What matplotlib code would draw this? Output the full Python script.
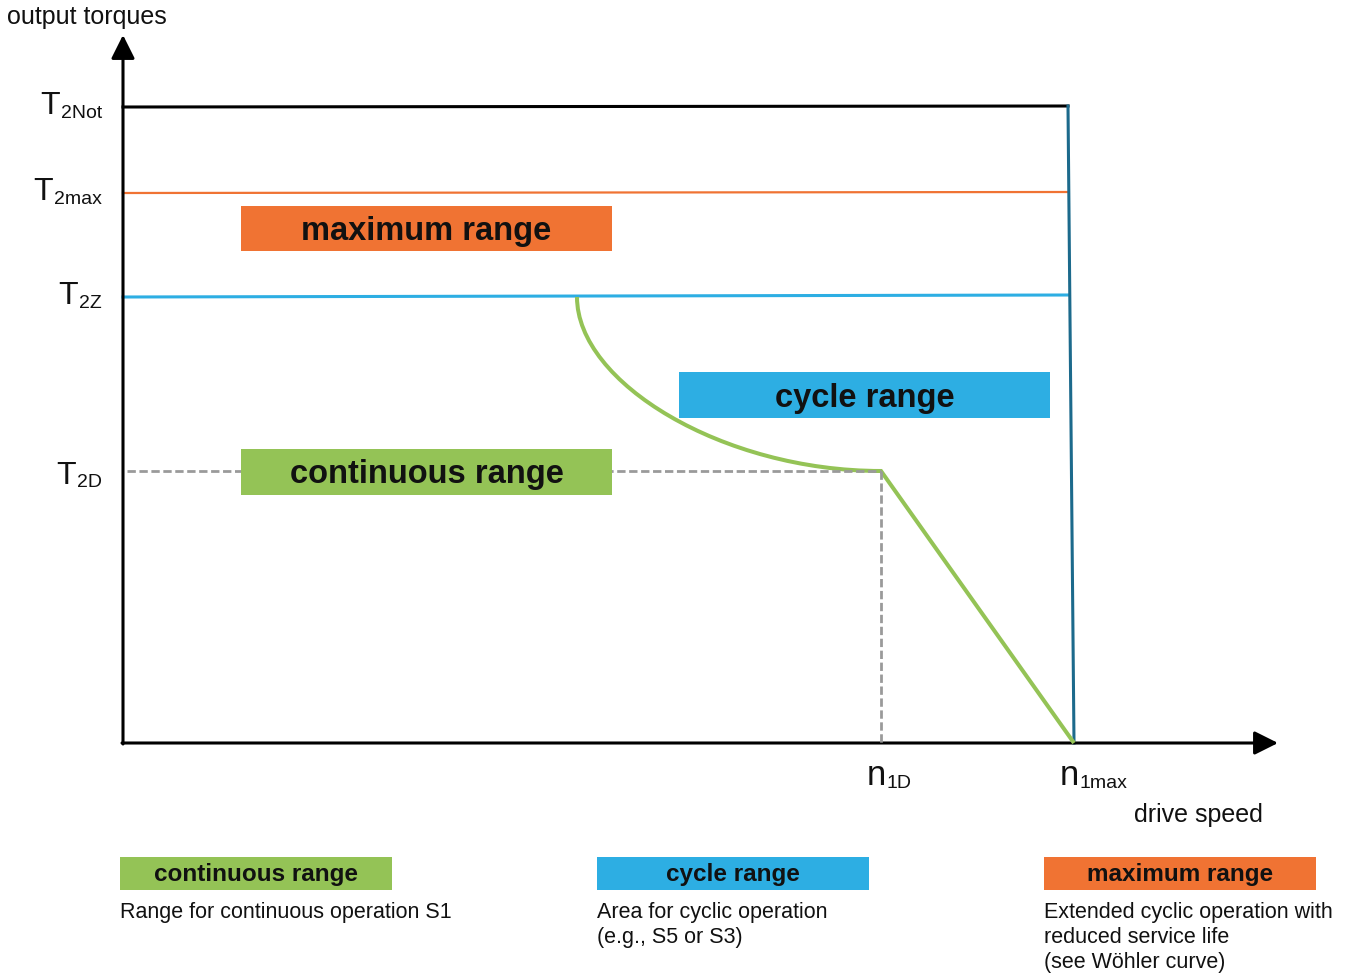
import matplotlib.pyplot as plt
from matplotlib.patches import Rectangle, PathPatch
from matplotlib.path import Path

plt.rcParams['font.family'] = ['Liberation Sans', 'DejaVu Sans']

# --- data (drawing units, origin at the axis corner) ---
level_names = ["2Not", "2max", "2Z", "2D"]
level_left = [636, 550, 446, 272]
level_right = [637, 551, 448, 272]

n1D = 758
n1max_top = 945
n1max = 951

# S1/S5 limit curve from T2Z down to (n1D, T2D): bezier anchor + control points
curve_x = [454, 454, 600, 758]
curve_y = [446, 360, 272, 272]

range_names = ["maximum range", "cycle range", "continuous range"]
range_colors = ["#F07333", "#2DAEE3", "#94C356"]
range_notes = ["Extended cyclic operation with\nreduced service life\n(see Wöhler curve)",
               "Area for cyclic operation\n(e.g., S5 or S3)",
               "Range for continuous operation S1"]

BLACK = "#111111"
ORANGE, BLUE, GREEN = range_colors
DARKBLUE = "#1C6A8C"
GREY = "#9A9A9A"

fig = plt.figure(figsize=(13.46, 9.76), dpi=100)
ax = fig.add_axes([0, 0, 1, 1])
ax.set_xlim(-123, 1223)
ax.set_ylim(-233, 743)
ax.axis('off')

# axes with arrow heads
arrow = dict(arrowstyle='-|>,head_length=0.4,head_width=0.2', mutation_scale=36,
             lw=2.2, color='black', shrinkA=0, shrinkB=0)
ax.annotate('', xy=(0, 708), xytext=(0, -1), arrowprops=arrow)
ax.annotate('', xy=(1155, 0), xytext=(-1, 0), arrowprops=arrow)

# torque levels
ax.plot([0, n1max_top], [level_left[0], level_right[0]], color='black', lw=2.2)
ax.plot([0, n1max_top], [level_left[1], level_right[1]], color=ORANGE, lw=1.6)
ax.plot([0, n1max_top], [level_left[2], level_right[2]], color=BLUE, lw=2.2)
ax.plot([n1max_top, n1max], [level_right[0], 0], color=DARKBLUE, lw=2.2)

# green limit: curve then straight drop to n1max
verts = list(zip(curve_x, curve_y)) + [(n1max, 0)]
codes = [Path.MOVETO, Path.CURVE4, Path.CURVE4, Path.CURVE4, Path.LINETO]
ax.add_patch(PathPatch(Path(verts, codes), fill=False, edgecolor=GREEN, lw=2.9, zorder=3))

# continuous torque / speed (dashed)
ax.plot([4, n1D], [level_left[3], level_right[3]], color=GREY, lw=2,
        dashes=(3.0, 1.3), zorder=4)
ax.plot([n1D, n1D], [level_right[3], 0], color=GREY, lw=2, dashes=(3.0, 1.3), zorder=4)

# range boxes inside the chart
boxes = [(118, 492, 371, 45), (556, 325, 371, 46), (118, 248, 371, 46)]
for (x0, y0, w, h), name, c in zip(boxes, range_names, range_colors):
    ax.add_patch(Rectangle((x0, y0), w, h, color=c, zorder=5, lw=0))
    ax.text(x0 + w / 2, y0 + h / 2 - 3, name, ha='center', va='center',
            fontsize=23.5, fontweight='bold', color=BLACK, zorder=6)

# legend row at the bottom
leg_x = [921, 474, -3]
for x0, name, c, note in zip(leg_x, range_names, range_colors, range_notes):
    ax.add_patch(Rectangle((x0, -147), 272, 33, color=c, lw=0, clip_on=False))
    ax.text(x0 + 136, -132, name, ha='center', va='center', fontsize=17.5,
            fontweight='bold', color=BLACK)
    ax.text(x0, -159, note, ha='left', va='top', fontsize=15.5,
            color=BLACK, linespacing=1.24)

# axis titles
ax.text(-116, 719, "output torques", fontsize=18, color=BLACK, va='baseline')
ax.text(1011, -79, "drive speed", fontsize=18, color=BLACK, va='baseline')

# tick labels with subscripts
fig.canvas.draw()
renderer = fig.canvas.get_renderer()
inv = ax.transData.inverted()

for name, y in zip(level_names, level_left):
    off = 16 if name == "2D" else 11
    s = ax.text(-21, y - off, name, ha='right', va='baseline', fontsize=14, color=BLACK)
    left = inv.transform(s.get_window_extent(renderer).p0)[0]
    ax.text(left - 1, y - off + 3.5, "T", ha='right', va='baseline', fontsize=23,
            color=BLACK)

for name, x in [("1D", n1D), ("1max", n1max)]:
    m = ax.text(x - 14, -42, "n", ha='left', va='baseline', fontsize=25, color=BLACK)
    right = inv.transform(m.get_window_extent(renderer).p1)[0]
    ax.text(right, -45, name, ha='left', va='baseline', fontsize=14, color=BLACK)

fig.savefig('out.png', dpi=100)
